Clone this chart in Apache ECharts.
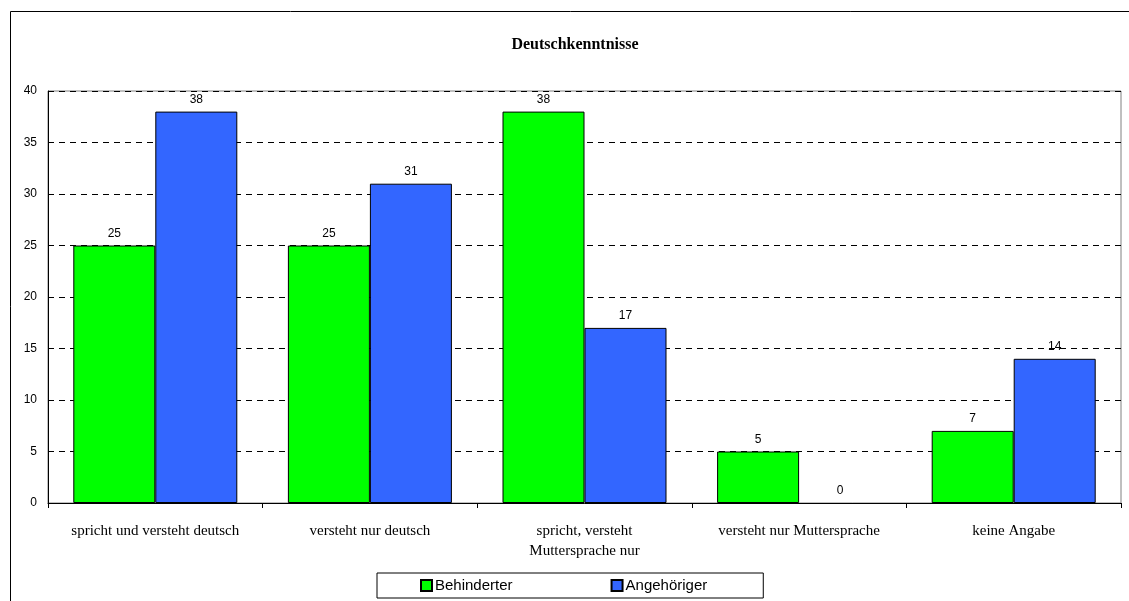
<!DOCTYPE html>
<html><head><meta charset="utf-8">
<script src="https://cdn.jsdelivr.net/npm/echarts@6/dist/echarts.min.js"></script>
<style>html,body{margin:0;padding:0;background:#fff}#c{width:1129px;height:601px}</style>
</head><body><div id="c"></div>
<script>
var categories = ['spricht und versteht deutsch', 'versteht nur deutsch', 'spricht, versteht\nMuttersprache nur', 'versteht nur Muttersprache', 'keine Angabe'];
var behinderter = [25, 25, 38, 5, 7];
var angehoeriger = [38, 31, 17, 0, 14];
var seriesNames = ['Behinderter', 'Angehöriger'];

function toData(arr) {
  return arr.map(function (v) { return v === 0 ? {value: v, itemStyle: {borderWidth: 0}} : v; });
}

var chart = echarts.init(document.getElementById('c'));
var lbl = {show: true, position: 'top', color: '#000', fontFamily: 'Arial, Liberation Sans, sans-serif', fontSize: 12, distance: 6};
chart.setOption({
  animation: false,
  graphic: [{type: 'rect', shape: {x: 10.5, y: 11.5, width: 1300, height: 800}, style: {fill: null, stroke: '#000', lineWidth: 1}, z: -1},
            {type: 'rect', shape: {x: 48, y: 91, width: 1073, height: 412}, style: {fill: null, stroke: '#808080', lineWidth: 1}, z: 0}],
  title: {text: 'Deutschkenntnisse', left: 570, top: 32, textAlign: 'center',
    textStyle: {fontFamily: 'Liberation Serif, Times New Roman, serif', fontSize: 16, fontWeight: 'bold', color: '#000'}},
  legend: {data: seriesNames, left: 377, top: 573, orient: 'horizontal', itemWidth: 11, itemHeight: 11, itemGap: 98,
    borderColor: '#000', borderWidth: 1, padding: [5, 56, 5, 43], icon: 'rect',
    textStyle: {fontFamily: 'Arial, Liberation Sans, sans-serif', fontSize: 15, color: '#000', padding: [0, 0, 0, -2]}},
  grid: {left: 48, top: 91, right: 8, bottom: 98, containLabel: false},
  xAxis: {type: 'category', data: categories,
    axisLine: {lineStyle: {color: '#000', width: 1}},
    axisTick: {show: true, length: 5, lineStyle: {color: '#000'}},
    axisLabel: {fontFamily: 'Liberation Serif, Times New Roman, serif', fontSize: 15, color: '#000', margin: 18, lineHeight: 20, interval: 0}},
  yAxis: {type: 'value', min: 0, max: 40, interval: 5,
    axisLine: {show: true, lineStyle: {color: '#000', width: 1}},
    axisTick: {show: false},
    axisLabel: {fontFamily: 'Arial, Liberation Sans, sans-serif', fontSize: 12, color: '#000', margin: 11},
    splitLine: {show: true, lineStyle: {color: '#000', type: [6, 5], width: 1}}},
  series: [
    {name: seriesNames[0], type: 'bar', data: toData(behinderter), barWidth: 82, barGap: '0%',
     itemStyle: {color: '#00ff00', borderColor: '#000', borderWidth: 1}, label: lbl},
    {name: seriesNames[1], type: 'bar', data: toData(angehoeriger), barWidth: 82, barGap: '0%',
     itemStyle: {color: '#3366ff', borderColor: '#000', borderWidth: 1}, label: lbl}
  ]
});
</script></body></html>
